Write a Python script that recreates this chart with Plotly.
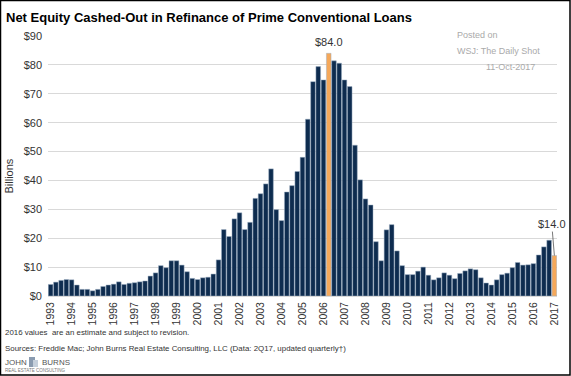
import plotly.graph_objects as go

years = list(range(1993, 2018))
values = [
    4.0, 4.8, 5.4, 5.7,      # 1993
    5.6, 3.8, 2.3, 2.3,      # 1994
    1.8, 2.3, 3.3, 3.8,      # 1995
    4.1, 4.9, 4.0, 4.4,      # 1996
    4.6, 4.9, 5.2, 6.9,      # 1997
    8.0, 10.5, 9.8, 12.2,    # 1998
    12.2, 10.7, 8.4, 6.1,    # 1999
    5.7, 6.3, 6.5, 7.6,      # 2000
    12.5, 23.0, 20.6, 26.7,  # 2001
    28.8, 23.0, 25.5, 33.8,  # 2002
    35.4, 38.8, 44.0, 29.9,  # 2003
    26.1, 36.0, 38.2, 43.1,  # 2004
    48.0, 61.2, 74.2, 79.4,  # 2005
    74.8, 84.0, 81.4, 80.6,  # 2006
    74.8, 72.5, 52.2, 40.2,  # 2007
    33.6, 31.5, 18.8, 12.2,  # 2008
    22.9, 24.7, 15.6, 10.5,  # 2009
    7.4, 7.4, 8.6, 10.0,     # 2010
    7.2, 5.6, 6.3, 8.0,      # 2011
    7.2, 6.0, 7.8, 8.7,      # 2012
    9.4, 9.1, 6.3, 4.5,      # 2013
    3.8, 5.6, 7.4, 7.9,      # 2014
    9.8, 11.6, 10.7, 10.8,   # 2015
    11.2, 14.2, 17.0, 19.3,  # 2016
    14.0,                    # 2017
]
highlight_idx = [53, 96]
peak_label = "$84.0"
last_label = "$14.0"
y_ticks = list(range(0, 91, 10))
y_ticktext = ["$" + str(v) for v in y_ticks]

NAVY = "#0e2c4f"
ORANGE = "#f5a85a"

x = list(range(len(values)))
colors = [ORANGE if i in highlight_idx else NAVY for i in x]

W, H = 571, 376
L, R, T, B = 48, 14, 36, 80
pw, ph = W - L - R, H - T - B

def px(xp):
    return (xp - L) / pw

def py(yp):
    return (H - B - yp) / ph

FONT = "Liberation Sans, Arial, sans-serif"

def note(xp, yp, text, size, color, xanchor="left", **kw):
    return dict(x=px(xp), y=py(yp), xref="paper", yref="paper", xanchor=xanchor,
                yanchor="middle", text=text, showarrow=False,
                font=dict(size=size, color=color, family=FONT), **kw)

fig = go.Figure()
fig.add_trace(go.Bar(
    x=x, y=values,
    marker=dict(color=colors, line=dict(color="#9fb0c4", width=0.5)),
    hoverinfo="skip",
))

annotations = [
    dict(x=53, y=values[53], xref="x", yref="y", text=peak_label, showarrow=False,
         yshift=11, font=dict(size=11, color="#333333", family=FONT)),
    dict(x=96, y=values[96], xref="x", yref="y", text=last_label, showarrow=True,
         arrowhead=0, arrowwidth=0.8, arrowcolor="#555555", ax=-2, ay=-24,
         font=dict(size=11, color="#333333", family=FONT), yanchor="bottom"),
    note(4, 17, "<b>Net Equity Cashed-Out in Refinance of Prime Conventional Loans</b>", 13, "#000000"),
    note(8.5, 176, "Billions", 11, "#333333", xanchor="center", textangle=-90),
    note(455, 35, "Posted on", 9, "#aaaaaa"),
    note(455, 51, "WSJ: The Daily Shot", 9, "#aaaaaa"),
    note(537, 67, "11-Oct-2017", 9, "#aaaaaa", xanchor="right"),
    note(3, 332, "2016 values  are an estimate and subject to revision.", 7.9, "#333333"),
    note(3, 348, "Sources: Freddie Mac; John Burns Real Estate Consulting, LLC (Data: 2Q17, updated quarterly\u2020)",
         7.9, "#333333"),
    note(3, 362, "JOHN", 8, "#555555"),
    note(40, 362, "BURNS", 8, "#555555"),
    note(3, 371, "REAL ESTATE CONSULTING", 4.5, "#777777"),
]

shapes = [
    dict(type="rect", xref="paper", yref="paper", x0=px(0.5), x1=px(W - 1), y0=py(0.5), y1=py(H - 1),
         line=dict(color="#000000", width=1.5), fillcolor="rgba(0,0,0,0)", layer="above"),
    dict(type="rect", xref="paper", yref="paper", x0=px(29), x1=px(35), y0=py(367), y1=py(357),
         line=dict(width=0), fillcolor="#8a9bb0"),
    dict(type="rect", xref="paper", yref="paper", x0=px(33), x1=px(38), y0=py(367), y1=py(360),
         line=dict(width=0), fillcolor="#c5cfdb"),
]

fig.update_layout(
    width=W, height=H,
    margin=dict(l=L, r=R, t=T, b=B, pad=0),
    paper_bgcolor="white", plot_bgcolor="white",
    showlegend=False,
    bargap=0.12,
    annotations=annotations,
    shapes=shapes,
    font=dict(family=FONT, color="#333333"),
)
fig.update_xaxes(
    range=[-0.5, len(values) - 0.5],
    tickmode="array",
    tickvals=[4 * i for i in range(len(years))],
    ticktext=[str(y) for y in years],
    tickangle=-90,
    tickfont=dict(size=10.5, color="#333333", family=FONT),
    showgrid=False, showline=False, zeroline=False, ticks="",
    ticklabelstandoff=3,
)
fig.update_yaxes(
    range=[0, 90],
    tickmode="array",
    tickvals=y_ticks,
    ticktext=y_ticktext,
    tickfont=dict(size=11, color="#333333", family=FONT),
    showgrid=True, gridcolor="#d9d9d9", gridwidth=1,
    zeroline=True, zerolinecolor="#d9d9d9",
    showline=False, ticks="", ticklabelstandoff=5,
)

fig.write_html(
    "out.html",
    config={"displayModeBar": False},
    post_script="document.body.style.margin='0px';document.body.style.overflow='hidden';",
)
